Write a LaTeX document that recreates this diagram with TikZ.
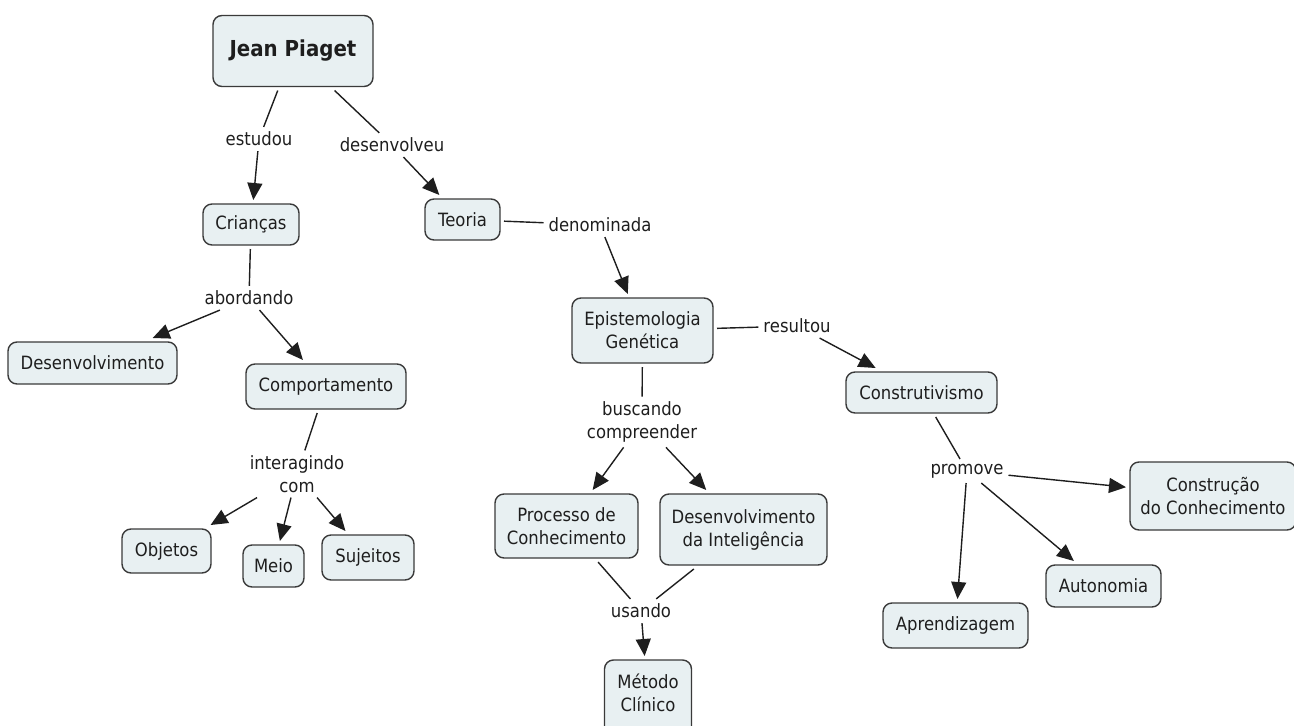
\documentclass[tikz,border=0pt]{standalone}
\usepackage{fontspec}
\setmainfont{DejaVu Sans}[FakeStretch=0.9]
\usetikzlibrary{arrows.meta}
\definecolor{boxfill}{HTML}{E8F0F2}
\definecolor{boxline}{HTML}{3A3A3A}
\definecolor{inkc}{HTML}{1E1E1E}
\begin{document}
\begin{tikzpicture}[x=1pt,y=-1pt,
  concept/.style={draw=boxline, fill=boxfill, line width=1.4pt, rounded corners=9pt,
    align=center, inner sep=0pt, outer sep=4pt, text=inkc,
    font=\fontsize{18.3}{23}\selectfont},
  linkword/.style={align=center, inner sep=3pt, outer sep=2pt, text=inkc,
    font=\fontsize{18.3}{23}\selectfont},
  link/.style={draw=inkc, line width=1.4pt},
  linkarrow/.style={link, -{Triangle[length=17pt,width=15pt]}}]
\path[use as bounding box] (0,0) rectangle (1294,726);
\clip (0,0) rectangle (1294,726);

% concepts
\node[concept, minimum width=160pt, minimum height=71pt,
  font=\fontsize{22}{26}\selectfont\bfseries] (jp) at (293,51) {Jean Piaget};
\node[concept, minimum width=96pt, minimum height=41pt] (cri) at (251,224.5) {Crianças};
\node[concept, minimum width=75pt, minimum height=41pt] (teo) at (462.5,219.5) {Teoria};
\node[concept, minimum width=169pt, minimum height=42pt] (desv) at (92.5,363) {Desenvolvimento};
\node[concept, minimum width=160pt, minimum height=45pt] (comp) at (326,386.5) {Comportamento};
\node[concept, minimum width=89pt, minimum height=44pt] (obj) at (166.5,551) {Objetos};
\node[concept, minimum width=61pt, minimum height=42pt] (meio) at (273.5,566) {Meio};
\node[concept, minimum width=92pt, minimum height=45pt] (suj) at (368,557.5) {Sujeitos};
\node[concept, minimum width=141pt, minimum height=65pt] (epi) at (642.5,330.5) {Epistemologia\\Genética};
\node[concept, minimum width=151pt, minimum height=41pt] (cons) at (921.5,392.5) {Construtivismo};
\node[concept, minimum width=143pt, minimum height=64pt] (proc) at (566.5,526) {Processo de\\Conhecimento};
\node[concept, minimum width=167pt, minimum height=71pt] (dint) at (743.5,529.5) {Desenvolvimento\\da Inteligência};
\node[concept, minimum width=87pt, minimum height=76pt] (met) at (648,698) {};
\node[align=center, inner sep=0pt, text=inkc, font=\fontsize{18.3}{23}\selectfont]
  (mettext) at (648,693) {Método\\Clínico};
\node[concept, minimum width=166pt, minimum height=68pt] (cc) at (1213,496) {Construção\\do Conhecimento};
\node[concept, minimum width=115pt, minimum height=42pt] (aut) at (1103.5,586) {Autonomia};
\node[concept, minimum width=145pt, minimum height=45pt] (apr) at (955.5,625.5) {Aprendizagem};

% linking phrases
\node[linkword] (estudou) at (259,139) {estudou};
\node[linkword] (desenv) at (392,145) {desenvolveu};
\node[linkword] (denom) at (600,225) {denominada};
\node[linkword] (abord) at (249,298) {abordando};
\node[linkword] (inter) at (297,474) {interagindo\\com};
\node[linkword] (busc) at (642,422) {buscando\\compreender};
\node[linkword] (result) at (797,326) {resultou};
\node[linkword] (usando) at (641,611) {usando};
\node[linkword] (promove) at (967,471) {promove};

% connections
\draw[link] (jp) -- (estudou);
\draw[linkarrow] (estudou) -- (cri);
\draw[link] (jp) -- (desenv);
\draw[linkarrow] (desenv) -- (teo);
\draw[link] (teo) -- (denom);
\draw[linkarrow] (denom) -- (epi);
\draw[link] (cri) -- (abord);
\draw[linkarrow] (abord) -- (desv);
\draw[linkarrow] (abord) -- (comp);
\draw[link] (comp) -- (inter);
\draw[linkarrow] (inter) -- (obj);
\draw[linkarrow] (inter) -- (meio);
\draw[linkarrow] (inter) -- (suj);
\draw[link] (epi) -- (result);
\draw[linkarrow] (result) -- (cons);
\draw[link] (epi) -- (busc);
\draw[linkarrow] (busc) -- (proc);
\draw[linkarrow] (busc) -- (dint);
\draw[link] (proc) -- (usando);
\draw[link] (dint) -- (usando);
\draw[linkarrow] (usando) -- (met);
\draw[link] (cons) -- (promove);
\draw[linkarrow] (promove) -- (cc);
\draw[linkarrow] (promove) -- (aut);
\draw[linkarrow] (promove) -- (apr);
\end{tikzpicture}
\end{document}
